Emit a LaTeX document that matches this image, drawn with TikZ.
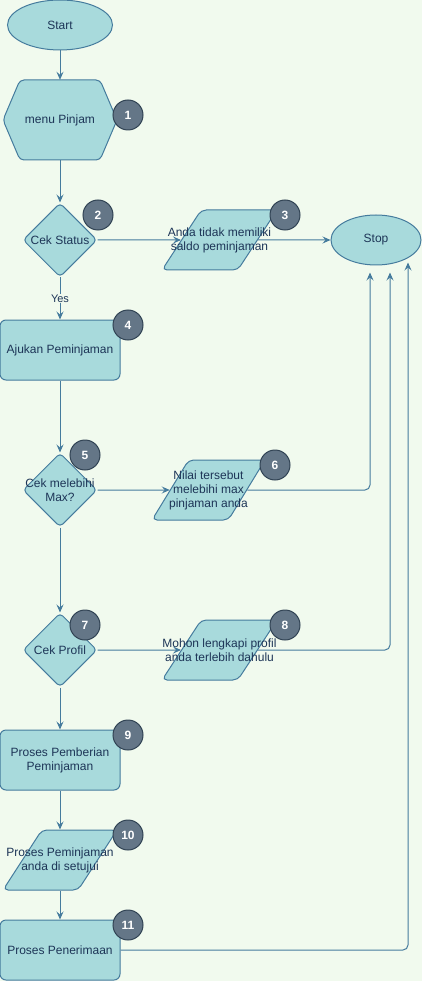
\documentclass[tikz,border=0pt]{standalone}
\usepackage{fontspec}
\setmainfont{Liberation Sans}
\usetikzlibrary{shapes.geometric,arrows.meta,calc}
\definecolor{bgc}{HTML}{F1FAEE}
\definecolor{fillc}{HTML}{A8DADC}
\definecolor{strokec}{HTML}{457B9D}
\definecolor{fontc}{HTML}{1D3557}
\definecolor{badgef}{HTML}{647687}
\definecolor{badges}{HTML}{314354}
\begin{document}
\begin{tikzpicture}[x=1pt,y=-1pt,
  shp/.style={draw=strokec, fill=fillc, line width=1pt},
  txt/.style={text=fontc, font=\fontsize{12}{14}\selectfont, align=center, inner sep=0pt},
  term/.style={shp, ellipse, inner sep=0pt, txt},
  rbox/.style={shp, rectangle, rounded corners=6pt, minimum width=120pt, minimum height=60pt, txt},
  dec/.style={shp, diamond, rounded corners=4pt, minimum width=74pt, minimum height=74pt, inner sep=0pt},
  para/.style={shp, trapezium, trapezium left angle=75, trapezium right angle=105, trapezium stretches=true, minimum width=115pt, minimum height=60pt, inner sep=2pt, rounded corners=5pt},
  badge/.style={circle, draw=badges, fill=badgef, line width=1pt, minimum size=30pt, inner sep=0pt, text=white, font=\bfseries\fontsize{12}{14}\selectfont},
  flow/.style={draw=strokec, line width=1pt, -{Stealth[length=8pt,width=7pt,inset=3pt]}},
  elbow/.style={flow, rounded corners=5pt}
]
\fill[bgc] (0,0) rectangle (422,981);
\useasboundingbox (0,0) rectangle (422,981);

% Start
\node[term, minimum width=105pt, minimum height=50pt] (start) at (60,25) {Start};

% hexagon
\draw[shp, rounded corners=4pt] (3,120) -- (20,80) -- (100,80) -- (117,120) -- (100,160) -- (20,160) -- cycle;
\node[txt, minimum width=114pt, minimum height=80pt] (menu) at (60,120) {menu Pinjam};

% decision 1
\node[dec] (d1) at (60,240) {};
\node[txt] (d1t) at (d1) {Cek Status};

% parallelogram 3
\node[para] (p3) at (219.5,240) {\strut};
\node[txt] (p3t) at (p3) {Anda tidak memiliki\\saldo peminjaman};

% stop
\node[term, minimum width=90pt, minimum height=50pt] (stop) at (376,240) {Stop};

% rect 4
\node[rbox] (r4) at (60,350) {Ajukan Peminjaman};

% decision 5
\node[dec] (d5) at (60,490) {};
\node[txt] (d5t) at (d5) {Cek melebihi\\Max?};

% parallelogram 6
\node[para, minimum width=113pt, trapezium left angle=77, trapezium right angle=103] (p6) at (208.5,490) {\strut};
\node[txt] (p6t) at (p6) {Nilai tersebut\\melebihi max\\pinjaman anda};

% decision 7
\node[dec] (d7) at (60,650) {};
\node[txt] (d7t) at (d7) {Cek Profil};

% parallelogram 8
\node[para] (p8) at (219.5,650) {\strut};
\node[txt] (p8t) at (p8) {Mohon lengkapi profil\\anda terlebih dahulu};

% rect 9
\node[rbox] (r9) at (60,760) {Proses Pemberian\\Peminjaman};

% parallelogram 10
\node[para, minimum width=114pt] (p10) at (60,860) {\strut};
\node[txt] (p10t) at (p10) {Proses Peminjaman\\anda di setujui};

% rect 11
\node[rbox] (r11) at (60,950) {Proses Penerimaan};

% connectors
\draw[flow] (start) -- (menu);
\draw[flow] (menu) -- (d1);
\draw[flow] (d1.east) -- (p3.west);
\draw[flow] (p3.east) -- (stop.west);
\draw[flow] (d1.south) -- node[fill=bgc, text=fontc, font=\fontsize{11}{13}\selectfont, inner sep=1pt] (yes) {Yes} (r4.north);
\draw[flow] (r4) -- (d5);
\draw[flow] (d5.east) -- (p6.west);
\draw[elbow] (p6.east) -| ($(stop.south)+(-6,7)$);
\draw[flow] (d5) -- (d7);
\draw[flow] (d7.east) -- (p8.west);
\draw[elbow] (p8.east) -| ($(stop.south)+(14,7)$);
\draw[flow] (d7) -- (r9);
\draw[flow] (r9) -- (p10);
\draw[flow] (p10) -- (r11);
\draw[elbow] (r11.east) -| ($(stop.south)+(32,-3)$);

% badges
\node[badge] (b1) at (128,115) {1};
\node[badge] (b2) at (98,215) {2};
\node[badge] (b3) at (285,215) {3};
\node[badge] (b4) at (128,325) {4};
\node[badge] (b5) at (85,455) {5};
\node[badge] (b6) at (275,465) {6};
\node[badge] (b7) at (85,625) {7};
\node[badge] (b8) at (285,625) {8};
\node[badge] (b9) at (128,735) {9};
\node[badge] (b10) at (128,835) {10};
\node[badge] (b11) at (128,925) {11};
\end{tikzpicture}
\end{document}
